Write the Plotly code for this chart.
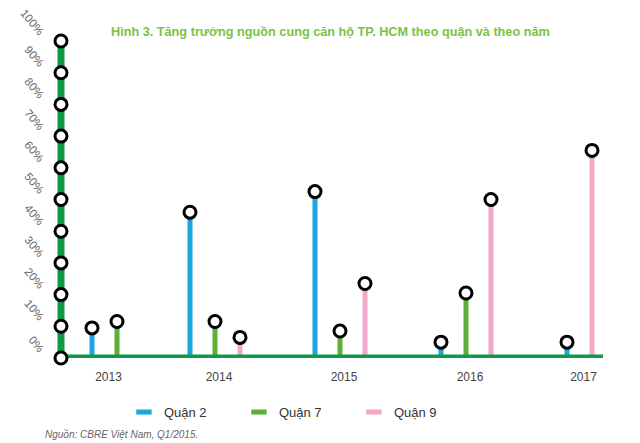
import plotly.graph_objects as go

# Data (share of supply, %)
years = ["2013", "2014", "2015", "2016", "2017"]
quan_2 = [9.5, 46, 52.5, 5, 5]
quan_7 = [11.5, 11.5, 8.5, 20.5, None]
quan_9 = [None, 6.5, 23.5, 50, 65.5]
y_ticks = list(range(0, 101, 10))

series = [
    ("Quận 2", quan_2, "#1aa6de"),
    ("Quận 7", quan_7, "#5fae37"),
    ("Quận 9", quan_9, "#f3a8c9"),
]

# layout: x axis is in pixel-like units, each year group starts at a fixed slot
group_start = [92, 190, 315, 441, 567]
slot = 25
axis_green = "#0f9a48"

# place present bars of each group side by side
positions = {name: [] for name, _, _ in series}
values = {name: [] for name, _, _ in series}
label_x = []
for i, start in enumerate(group_start):
    k = 0
    for name, vals, _ in series:
        if vals[i] is not None:
            positions[name].append(start + slot * k)
            values[name].append(vals[i])
            k += 1
    label_x.append(start + slot * (k - 1) / 2 + 4)

fig = go.Figure()

for name, _, color in series:
    fig.add_trace(go.Bar(
        x=positions[name], y=values[name], width=5, name=name,
        marker=dict(color=color, line=dict(width=0)),
        showlegend=False, hoverinfo="skip",
    ))
    # legend-only entry with a flat swatch
    fig.add_trace(go.Scatter(
        x=[None], y=[None], mode="markers", name=name,
        marker=dict(symbol="line-ew", size=11, line=dict(color=color, width=7)),
    ))

# green axis lines
fig.add_trace(go.Scatter(
    x=[61, 61, 603], y=[100, 0, 0], mode="lines",
    line=dict(color=axis_green, width=7), showlegend=False,
    cliponaxis=False, hoverinfo="skip",
))

# circles on the value axis
fig.add_trace(go.Scatter(
    x=[61] * len(y_ticks), y=y_ticks, mode="markers",
    marker=dict(size=12, color="white", line=dict(color="black", width=3)),
    showlegend=False, cliponaxis=False, hoverinfo="skip",
))

# circles on top of every stem
for name, _, _ in series:
    fig.add_trace(go.Scatter(
        x=positions[name], y=values[name], mode="markers",
        marker=dict(size=12, color="white", line=dict(color="black", width=3)),
        showlegend=False, cliponaxis=False, hoverinfo="skip",
    ))

# page has an 8px body margin, so the figure is 8px smaller than the window
fig.update_layout(
    width=632, height=435,
    plot_bgcolor="white", paper_bgcolor="white",
    margin=dict(l=42, r=30, t=1, b=85, autoexpand=False),
    barmode="overlay",
    font=dict(family="Liberation Sans, Arial, sans-serif", color="#444"),
    xaxis=dict(
        range=[50, 610], showgrid=False, zeroline=False, showline=False,
        tickvals=label_x, ticktext=years, ticks="", automargin=False,
        tickfont=dict(size=12, color="#444"), ticklabelstandoff=10,
    ),
    yaxis=dict(
        range=[0, 110.1], showgrid=False, zeroline=False, showline=False,
        tickvals=y_ticks, ticktext=[f"{v}%" for v in y_ticks], ticks="",
        tickangle=50, ticklabelshift=-7, ticklabelstandoff=6, automargin=False,
        ticklabeloverflow="allow",
        tickfont=dict(size=11.5, color="#666"),
    ),
    legend=dict(
        orientation="h", x=0.132, xanchor="left", y=-0.155, yanchor="middle",
        font=dict(size=13, color="#333"), entrywidth=70, entrywidthmode="pixels",
        bgcolor="rgba(0,0,0,0)",
    ),
    annotations=[
        dict(
            text="<b>Hình 3. Tăng trưởng nguồn cung căn hộ TP. HCM theo quận và theo năm</b>",
            xref="paper", yref="paper", x=0.5, y=0.934,
            xanchor="center", yanchor="middle", showarrow=False,
            font=dict(size=12.7, color="#7cc242"),
        ),
        dict(
            text="<i>Nguồn: CBRE Việt Nam, Q1/2015.</i>",
            xref="paper", yref="paper", x=-7 / 560, y=-0.218,
            xanchor="left", yanchor="middle", showarrow=False,
            font=dict(size=10, color="#666"),
        ),
    ],
)

fig.write_html("out.html")
